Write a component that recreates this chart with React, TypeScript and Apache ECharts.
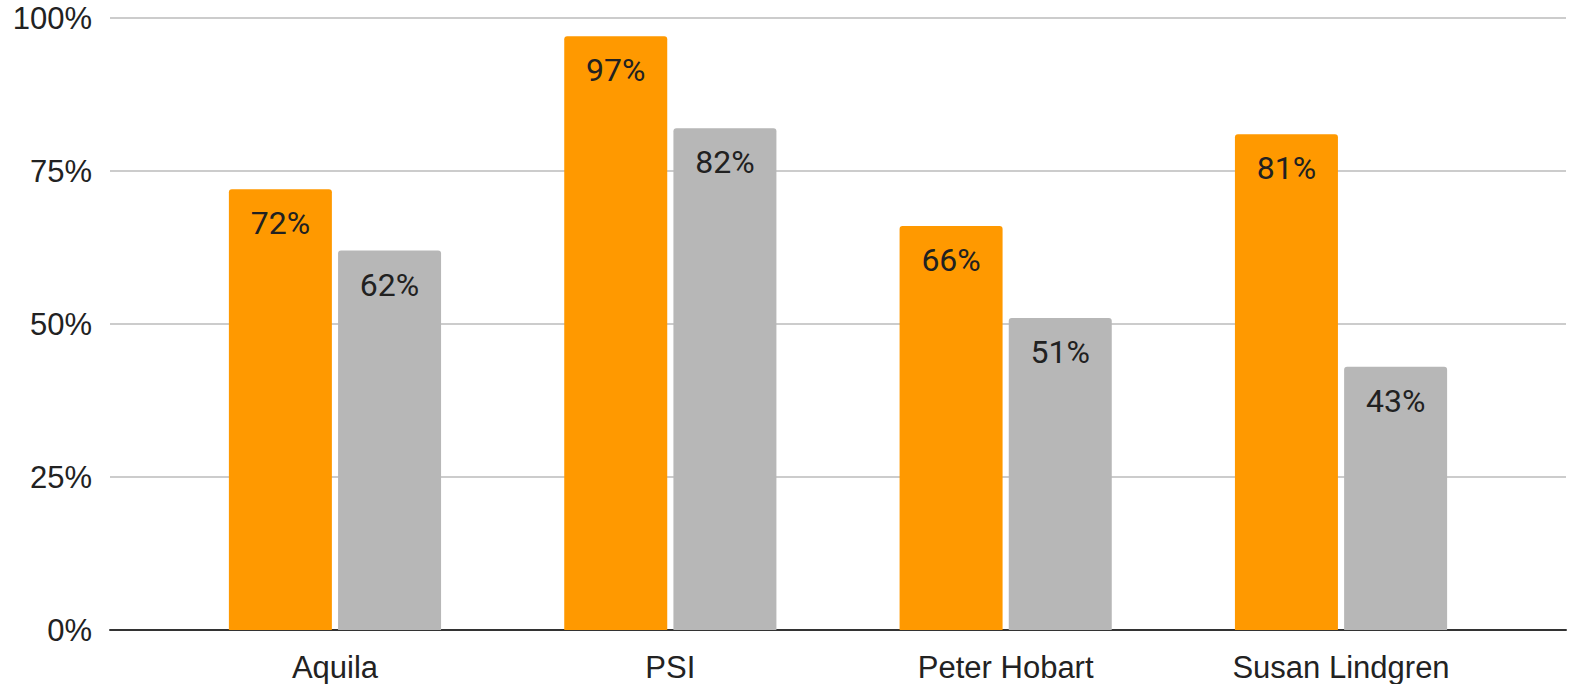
import React, { useEffect, useRef } from "react";
import * as echarts from "echarts";

const categories = ["Aquila", "PSI", "Peter Hobart", "Susan Lindgren"];
const seriesA = [72, 97, 66, 81];
const seriesB = [62, 82, 51, 43];
const yTicks = [0, 25, 50, 75, 100];

export default function App() {
  const ref = useRef<HTMLDivElement>(null);
  useEffect(() => {
    if (!ref.current) return;
    const chart = echarts.init(ref.current, null, { renderer: "svg" });
    const labelFont = "'Liberation Sans', Arial, sans-serif";
    const dataLabel = {
      show: true,
      position: "insideTop",
      distance: 18,
      fontSize: 32,
      lineHeight: 32,
      fontFamily: "Roboto, sans-serif",
      color: "#212121",
      formatter: (p: any) => p.value + "%",
    };
    chart.setOption({
      animation: false,
      grid: [
        { left: 110, right: 3, top: 18, bottom: 54 },
        { left: 167.3, right: 60.3, top: 18, bottom: 54 },
      ],
      xAxis: [
        {
          gridIndex: 0,
          type: "value",
          min: 0,
          max: 1,
          axisLine: { show: true, lineStyle: { color: "#333333", width: 2 } },
          axisTick: { show: false },
          axisLabel: { show: false },
          splitLine: { show: false },
        },
        {
          gridIndex: 1,
          type: "category",
          data: categories,
          axisLine: { show: false },
          axisTick: { show: false },
          axisLabel: {
            margin: 22,
            fontSize: 31,
            fontFamily: labelFont,
            color: "#222222",
          },
        },
      ],
      yAxis: [
        {
          gridIndex: 0,
          type: "value",
          min: yTicks[0],
          max: yTicks[yTicks.length - 1],
          interval: 25,
          axisLine: { show: false },
          axisTick: { show: false },
          axisLabel: {
            margin: 18,
            fontSize: 31,
            fontFamily: labelFont,
            color: "#222222",
            formatter: "{value}%",
          },
          splitLine: { show: true, lineStyle: { color: "#cccccc", width: 2 } },
        },
        {
          gridIndex: 1,
          type: "value",
          min: 0,
          max: 100,
          show: false,
          splitLine: { show: false },
        },
      ],
      series: [
        {
          type: "bar",
          xAxisIndex: 1,
          yAxisIndex: 1,
          data: seriesA,
          barWidth: 103,
          barGap: "6%",
          itemStyle: { color: "#ff9900", borderRadius: [3, 3, 0, 0] },
          label: dataLabel,
        },
        {
          type: "bar",
          xAxisIndex: 1,
          yAxisIndex: 1,
          data: seriesB,
          barWidth: 103,
          barGap: "6%",
          itemStyle: { color: "#b7b7b7", borderRadius: [3, 3, 0, 0] },
          label: dataLabel,
        },
      ],
    });
    return () => chart.dispose();
  }, []);
  return (
    <div
      ref={ref}
      style={{ position: "absolute", left: 0, top: 0, width: 1569, height: 684, background: "#ffffff" }}
    />
  );
}
